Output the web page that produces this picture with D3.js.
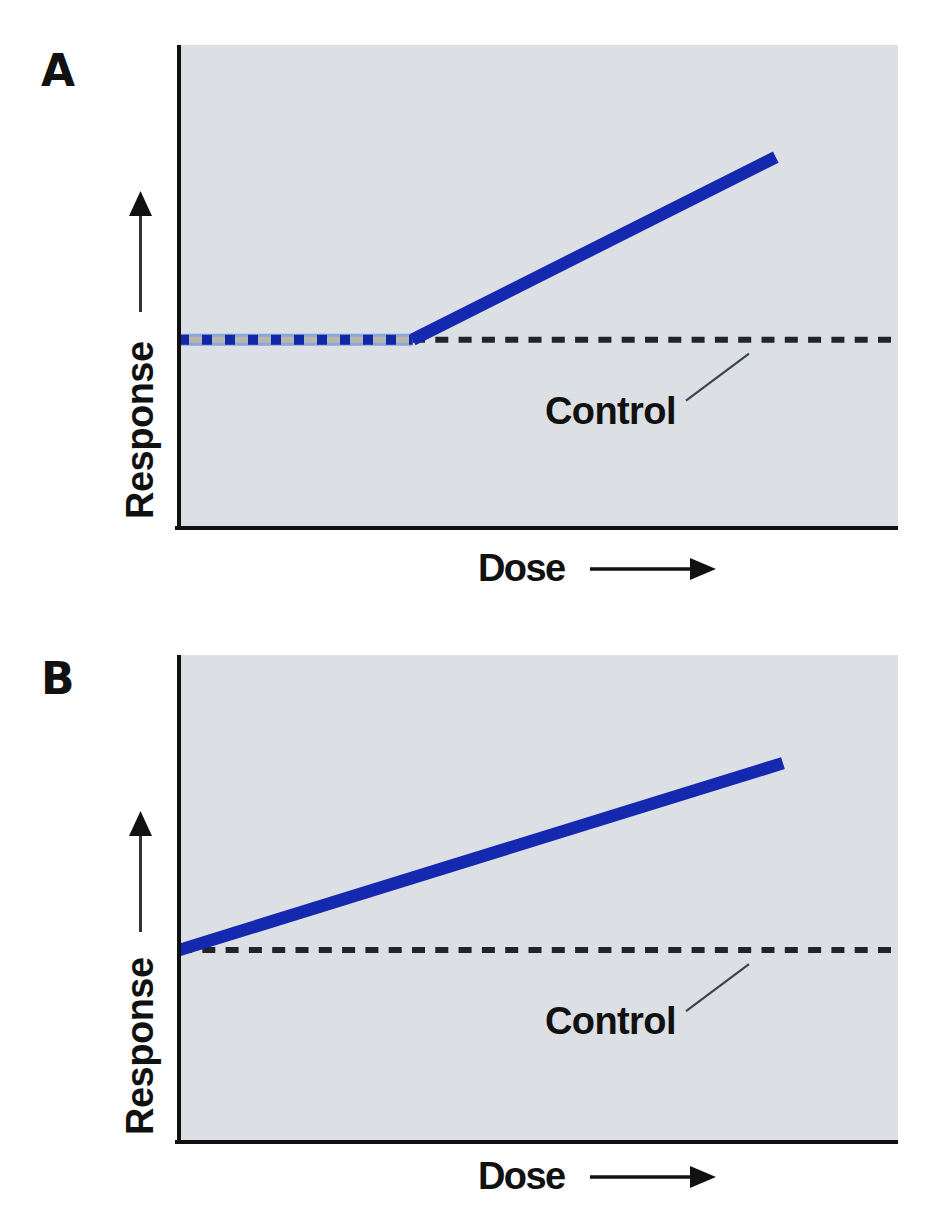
<!DOCTYPE html>
<html><head><meta charset="utf-8">
<script src="https://cdn.jsdelivr.net/npm/d3@7"></script>
<style>body{margin:0;background:#fff}svg{display:block}</style>
</head><body>
<script>
// ---- data ----
const panelLabels = ["A", "B"];
const xLabel = "Dose";
const yLabel = "Response";
const controlLabel = "Control";
const controlValues = [3.9, 3.94];
// response line in panel A: flat (threshold) then rising
const responseA_x = [0, 3.25, 8.3];
const responseA_y = [3.9, 3.9, 7.68];
// response line in panel B: rising from zero dose
const responseB_x = [0, 8.4];
const responseB_y = [3.94, 7.78];
const xDomain = [0, 10];
const yDomain = [0, 10];

const W = 946, H = 1212;
const svg = d3.select("body").append("svg").attr("width", W).attr("height", H);

const panels = [
  {label: panelLabels[0], top: 45, bottom: 528, control: controlValues[0],
   xs: responseA_x, ys: responseA_y, threshold: true,
   letterY: 86, doseY: 581, textBottom: 519, headTip: 191, shaftEnd: 312},
  {label: panelLabels[1], top: 655, bottom: 1142, control: controlValues[1],
   xs: responseB_x, ys: responseB_y, threshold: false,
   letterY: 694, doseY: 1189, textBottom: 1135, headTip: 811, shaftEnd: 932}
];

const left = 179, right = 898;
const labelFont = "'Liberation Sans', Arial, sans-serif";

panels.forEach(p => {
  const g = svg.append("g");
  const x = d3.scaleLinear().domain(xDomain).range([left, right]);
  const y = d3.scaleLinear().domain(yDomain).range([p.bottom, p.top]);

  // plot background
  g.append("rect").attr("x", left).attr("y", p.top)
    .attr("width", right - left).attr("height", p.bottom - p.top)
    .attr("fill", "#dcdfe4");

  // control dashed line
  g.append("line")
    .attr("x1", x(xDomain[0])).attr("x2", x(xDomain[1]))
    .attr("y1", y(p.control)).attr("y2", y(p.control))
    .attr("stroke", "#222428").attr("stroke-width", 6)
    .attr("stroke-dasharray", "13,10.3");

  const pts = p.xs.map((v, i) => [v, p.ys[i]]);
  const line = d3.line().x(d => x(d[0])).y(d => y(d[1]));

  if (p.threshold) {
    const flat = pts.slice(0, 2), rise = pts.slice(1);
    g.append("path").attr("d", line(flat)).attr("fill", "none")
      .attr("stroke", "#8aa6de").attr("stroke-width", 12);
    g.append("path").attr("d", line(flat)).attr("fill", "none")
      .attr("stroke", "#b8b6ad").attr("stroke-width", 6);
    g.append("path").attr("d", line(flat)).attr("fill", "none")
      .attr("stroke", "#1226a8").attr("stroke-width", 10)
      .attr("stroke-dasharray", "10,13");
    g.append("path").attr("d", line(rise)).attr("fill", "none")
      .attr("stroke", "#1529b0").attr("stroke-width", 12.5)
      .attr("stroke-linejoin", "round");
  } else {
    g.append("path").attr("d", line(pts)).attr("fill", "none")
      .attr("stroke", "#1529b0").attr("stroke-width", 12.5);
  }

  // axes (no ticks)
  const xAxis = g.append("g").attr("transform", `translate(0,${p.bottom})`)
    .call(d3.axisBottom(x).ticks(0).tickSizeOuter(0));
  const yAxis = g.append("g").attr("transform", `translate(${left},0)`)
    .call(d3.axisLeft(y).ticks(0).tickSizeOuter(0));
  [xAxis, yAxis].forEach(a => a.select(".domain")
    .attr("stroke", "#111").attr("stroke-width", 4));
  xAxis.select(".domain").attr("d", `M${left - 4},0H${right}`);
  yAxis.select(".domain").attr("d", `M0,${p.top}V${p.bottom + 2}`);

  // panel letter
  g.append("text").attr("x", 41).attr("y", p.letterY)
    .attr("font-family", "'DejaVu Sans', sans-serif")
    .attr("font-weight", "bold").attr("font-size", 44).attr("fill", "#111")
    .text(p.label);

  // control label + leader
  const cy = y(p.control);
  g.append("line").attr("x1", 686).attr("y1", cy + 61).attr("x2", 749).attr("y2", cy + 14)
    .attr("stroke", "#3c444c").attr("stroke-width", 2.2);
  g.append("text").attr("x", 545).attr("y", cy + 84)
    .attr("font-family", labelFont).attr("font-weight", "bold")
    .attr("font-size", 38).attr("letter-spacing", -0.6).attr("fill", "#111")
    .text(controlLabel);

  // x label + arrow
  const dy = p.doseY;
  g.append("text").attr("x", 478).attr("y", dy)
    .attr("font-family", labelFont).attr("font-weight", "bold")
    .attr("font-size", 38).attr("letter-spacing", -1.6).attr("fill", "#111")
    .text(xLabel);
  g.append("line").attr("x1", 590).attr("x2", 695).attr("y1", dy - 12).attr("y2", dy - 12)
    .attr("stroke", "#111").attr("stroke-width", 3.5);
  g.append("path").attr("d", `M716,${dy - 12}L690,${dy - 23}L690,${dy - 1}Z`)
    .attr("fill", "#111");

  // y label + arrow
  g.append("text")
    .attr("transform", `translate(153,${p.textBottom}) rotate(-90)`)
    .attr("font-family", labelFont).attr("font-weight", "bold")
    .attr("font-size", 38).attr("letter-spacing", -0.5).attr("fill", "#111")
    .text(yLabel);
  g.append("line").attr("x1", 140.5).attr("x2", 140.5)
    .attr("y1", p.headTip + 22).attr("y2", p.shaftEnd)
    .attr("stroke", "#333").attr("stroke-width", 3);
  g.append("path")
    .attr("d", `M140.5,${p.headTip}L129,${p.headTip + 25}L152,${p.headTip + 25}Z`)
    .attr("fill", "#111");
});
</script>
</body></html>
